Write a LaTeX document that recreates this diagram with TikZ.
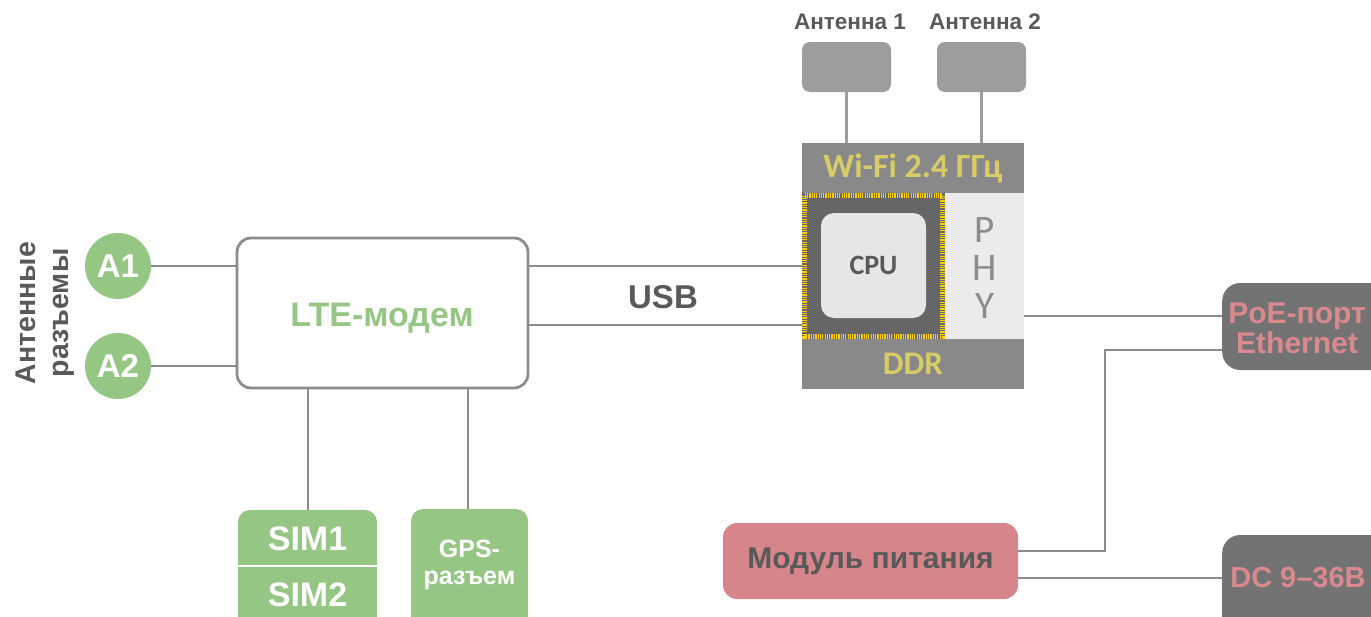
\documentclass[tikz,border=0pt]{standalone}
\usepackage{fontspec}
\setmainfont{Liberation Sans}
\newfontfamily\calib{Carlito}
\definecolor{lgreen}{HTML}{96C683}
\definecolor{wire}{HTML}{8C8C8C}
\definecolor{dtext}{HTML}{595959}
\definecolor{ylw}{HTML}{D8CC68}
\definecolor{modgray}{HTML}{898989}
\definecolor{cpudark}{HTML}{666666}
\definecolor{cpulight}{HTML}{E6E6E6}
\definecolor{phybg}{HTML}{EAEBEA}
\definecolor{portgray}{HTML}{737373}
\definecolor{pinktext}{HTML}{D98A8D}
\definecolor{pinkfill}{HTML}{D6868A}
\definecolor{antgray}{HTML}{9D9D9D}
\definecolor{pins}{HTML}{FFD000}
\tikzset{
  wireline/.style={draw=wire, line width=2.8pt},
  bigwhite/.style={text=white, font=\bfseries\fontsize{34}{36}\selectfont},
  circ/.style={circle, fill=lgreen, minimum size=66pt, inner sep=0pt, text=white, font=\bfseries\fontsize{33}{35}\selectfont},
  portbox/.style={fill=portgray, rounded corners=18pt, inner sep=0pt},
  porttext/.style={text=pinktext, font=\bfseries\fontsize{30}{30}\selectfont, align=center},
  anttext/.style={text=dtext, font=\bfseries\fontsize{22.5}{24}\selectfont},
  antbox/.style={fill=antgray, rounded corners=8pt, minimum width=89pt, minimum height=50pt, inner sep=0pt},
}
\begin{document}
\begin{tikzpicture}[x=1pt,y=-1pt]
\useasboundingbox (0,0) rectangle (1371,616);
\clip (0,0) rectangle (1371,616);

% antenna connectors label
\node[rotate=90, text=dtext, font=\bfseries\fontsize{28.5}{33}\selectfont, align=center] (antlabel) at (45,313) {Антенные\\разъемы};

% circles
\node[circ] (a1) at (118,266) {A1};
\node[circ] (a2) at (118,366) {A2};

% LTE modem
\node[draw=wire, line width=2.8pt, fill=white, rounded corners=14pt, minimum width=291pt, minimum height=150pt] (lte) at (382.5,313) {};
\node[text=lgreen, font=\bfseries\fontsize{34}{36}\selectfont] (ltel) at (382,318) {LTE-модем};

% SIM and GPS
\fill[lgreen, rounded corners=12pt] (238,510) rectangle (377,640);
\draw[white, line width=2pt] (238,566) -- (377,566);
\node[bigwhite] (sim1) at (307.5,539) {SIM1};
\node[bigwhite] (sim2) at (307.5,595) {SIM2};
\coordinate (simtop) at (308,510);

\fill[lgreen, rounded corners=12pt] (411,509) rectangle (528,640);
\node[text=white, font=\bfseries\fontsize{25}{27}\selectfont, align=center] (gps) at (469.5,565) {GPS-\\разъем};
\coordinate (gpstop) at (468,509);

% wires from circles
\draw[wireline] (a1.east) -- (a1.east -| lte.west);
\draw[wireline] (a2.east) -- (a2.east -| lte.west);
\draw[wireline] (lte.south -| simtop) -- (simtop);
\draw[wireline] (lte.south -| gpstop) -- (gpstop);

% module
\node[fill=modgray, minimum width=222pt, minimum height=246pt, inner sep=0pt] (module) at (913,266) {};
\node[text=ylw, font=\calib\bfseries\fontsize{34}{36}\selectfont] (wifi) at (913,168) {Wi-Fi 2.4 ГГц};
\node[text=ylw, font=\calib\bfseries\fontsize{33}{35}\selectfont] (ddr) at (913,364) {DDR};
\fill[phybg] (945,193) rectangle (1024,339);
\node[text=wire, font=\calib\fontsize{39}{38}\selectfont, align=center] (phy) at (985,268) {P\\H\\Y};
\fill[cpudark] (802,193) rectangle (945,339);
\draw[pins, line width=4.5pt, dash pattern=on 1.2pt off 1.1pt] (804.5,195.5) rectangle (942.5,336.5);
\fill[cpudark] (807,198) rectangle (940,334);
\node[fill=cpulight, rounded corners=13pt, minimum width=105pt, minimum height=105pt, inner sep=0pt, text=dtext, font=\calib\bfseries\fontsize{28}{30}\selectfont] (cpu) at (873.5,265.5) {CPU};

% USB
\draw[wireline] (lte.east |- 0,266) -- (802,266);
\draw[wireline] (lte.east |- 0,325) -- (802,325);
\node[text=dtext, font=\bfseries\fontsize{33}{35}\selectfont] (usb) at (663,297) {USB};

% antennas
\node[antbox] (ant1) at (846.5,67) {};
\node[antbox] (ant2) at (981.5,67) {};
\node[anttext] (ant1l) at (850,22) {Антенна 1};
\node[anttext] (ant2l) at (985,22) {Антенна 2};
\draw[draw=antgray, line width=2.8pt] (ant1.south) -- (ant1.south |- module.north);
\draw[draw=antgray, line width=2.8pt] (ant2.south) -- (ant2.south |- module.north);

% ports
\node[portbox, minimum width=180pt, minimum height=87pt, anchor=west] (poe) at (1222,326.5) {};
\node[porttext] (poel) at (1297,328) {PoE-порт\\Ethernet};
\node[portbox, minimum width=180pt, minimum height=100pt, anchor=west] (dc) at (1222,585) {};
\node[porttext, font=\bfseries\fontsize{29}{30}\selectfont] (dcl) at (1298,578) {DC 9–36В};

% power module
\node[fill=pinkfill, rounded corners=14pt, minimum width=295pt, minimum height=76pt, inner sep=0pt, text=dtext, font=\bfseries\fontsize{30}{32}\selectfont] (pwr) at (870.5,561) {Модуль питания};

% wires right
\draw[wireline] (1024,316) -- (poe.west |- 0,316);
\draw[wireline] (poe.west |- 0,350) -- (1105,350) -- (1105,551) -- (pwr.east |- 0,551);
\draw[wireline] (pwr.east |- 0,578) -- (dc.west |- 0,578);
\end{tikzpicture}
\end{document}
